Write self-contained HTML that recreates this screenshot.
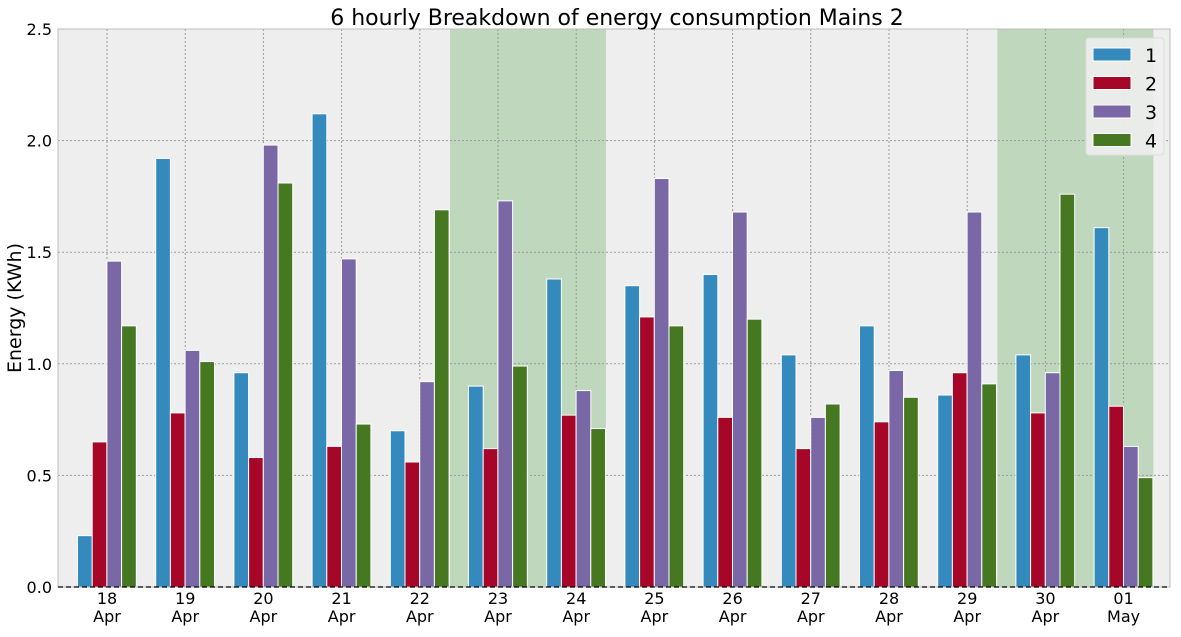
<!DOCTYPE html>
<html><head><meta charset="utf-8"><style>
body{margin:0;background:#fff;font-family:"Liberation Sans","DejaVu Sans",sans-serif}
svg text{font-family:"DejaVu Sans","Liberation Sans",sans-serif}
</style></head><body>
<svg id="c" width="1181" height="632" xmlns="http://www.w3.org/2000/svg"></svg>
<script>
const days=["18","19","20","21","22","23","24","25","26","27","28","29","30","01"];
const months=["Apr","Apr","Apr","Apr","Apr","Apr","Apr","Apr","Apr","Apr","Apr","Apr","Apr","May"];
const s1=[0.23,1.92,0.96,2.12,0.70,0.90,1.38,1.35,1.40,1.04,1.17,0.86,1.04,1.61];
const s2=[0.65,0.78,0.58,0.63,0.56,0.62,0.77,1.21,0.76,0.62,0.74,0.96,0.78,0.81];
const s3=[1.46,1.06,1.98,1.47,0.92,1.73,0.88,1.83,1.68,0.76,0.97,1.68,0.96,0.63];
const s4=[1.17,1.01,1.81,0.73,1.69,0.99,0.71,1.17,1.20,0.82,0.85,0.91,1.76,0.49];
const yTicks=[0,0.5,1.0,1.5,2.0,2.5];
const weekendStarts=[5,12];
const seriesNames=["1","2","3","4"];
const colors=["#348ABD","#A60628","#7A68A6","#467821"];
const series=[s1,s2,s3,s4];
const NS="http://www.w3.org/2000/svg";
const svg=document.getElementById('c');
const L=58,R=1170,T=29,B=587;
const xc=i=>107+78.2*i;
const y=v=>B-(v/2.5)*(B-T);
function el(t,a,p){const e=document.createElementNS(NS,t);for(const k in a)e.setAttribute(k,a[k]);(p||svg).appendChild(e);return e;}
const bg=el('rect',{x:L,y:T,width:R-L,height:B-T,fill:'#eeeeee'});


weekendStarts.forEach(d=>{const x0=xc(d)-48,x1=Math.min(xc(d)+108,R);
const r=el('rect',{x:x0,y:T,width:x1-x0,height:B-T,fill:'#bfd8bd'});

});
yTicks.forEach(v=>{const g=el('line',{x1:L,x2:R,y1:y(v),y2:y(v),stroke:'#999',"stroke-dasharray":'2,2',"stroke-width":1});


const t=el('text',{x:L-6,y:y(v)+6,"text-anchor":'end',"font-size":16,fill:'#000'});t.textContent=v.toFixed(1);

});
days.forEach((d,i)=>{const g=el('line',{x1:xc(i),x2:xc(i),y1:T,y2:B,stroke:'#999',"stroke-dasharray":'2,2'});


const t=el('text',{x:xc(i),y:604,"text-anchor":'middle',"font-size":16});t.textContent=d;


const t2=el('text',{x:xc(i),y:622,"text-anchor":'middle',"font-size":16});t2.textContent=months[i];

});
series.forEach((s,k)=>s.forEach((v,i)=>{const bx=xc(i)-29.5+k*14.7;
const b=el('rect',{x:bx,y:y(v),width:14.7,height:B-y(v),fill:colors[k],stroke:'#fff',"stroke-width":1});

}));
const fr=el('rect',{x:L,y:T,width:R-L,height:B-T,fill:'none',stroke:'#bcbcbc'});


const zl=el('line',{x1:L,x2:R,y1:B,y2:B,stroke:'#000',"stroke-dasharray":'5,3',"stroke-width":1.3});


const title=el('text',{x:617,y:25,"text-anchor":'middle',"font-size":22});title.textContent='6 hourly Breakdown of energy consumption Mains 2';


const yl=el('text',{x:21,y:308,"text-anchor":'middle',"font-size":19,transform:'rotate(-90 21 308)'});yl.textContent='Energy (KWh)';


const lg=el('g',{});


el('rect',{x:1086,y:38,width:78,height:117,rx:3,fill:'#eeeeee',stroke:'#ddd',"fill-opacity":0.9},lg);
seriesNames.forEach((n,k)=>{const yy=48+k*28.5;
const sw=el('rect',{x:1093,y:yy,width:38,height:13,fill:colors[k],stroke:'#fff'},lg);


const t=el('text',{x:1145,y:yy+14,"font-size":19},lg);t.textContent=n;

});
</script>
</body></html>
